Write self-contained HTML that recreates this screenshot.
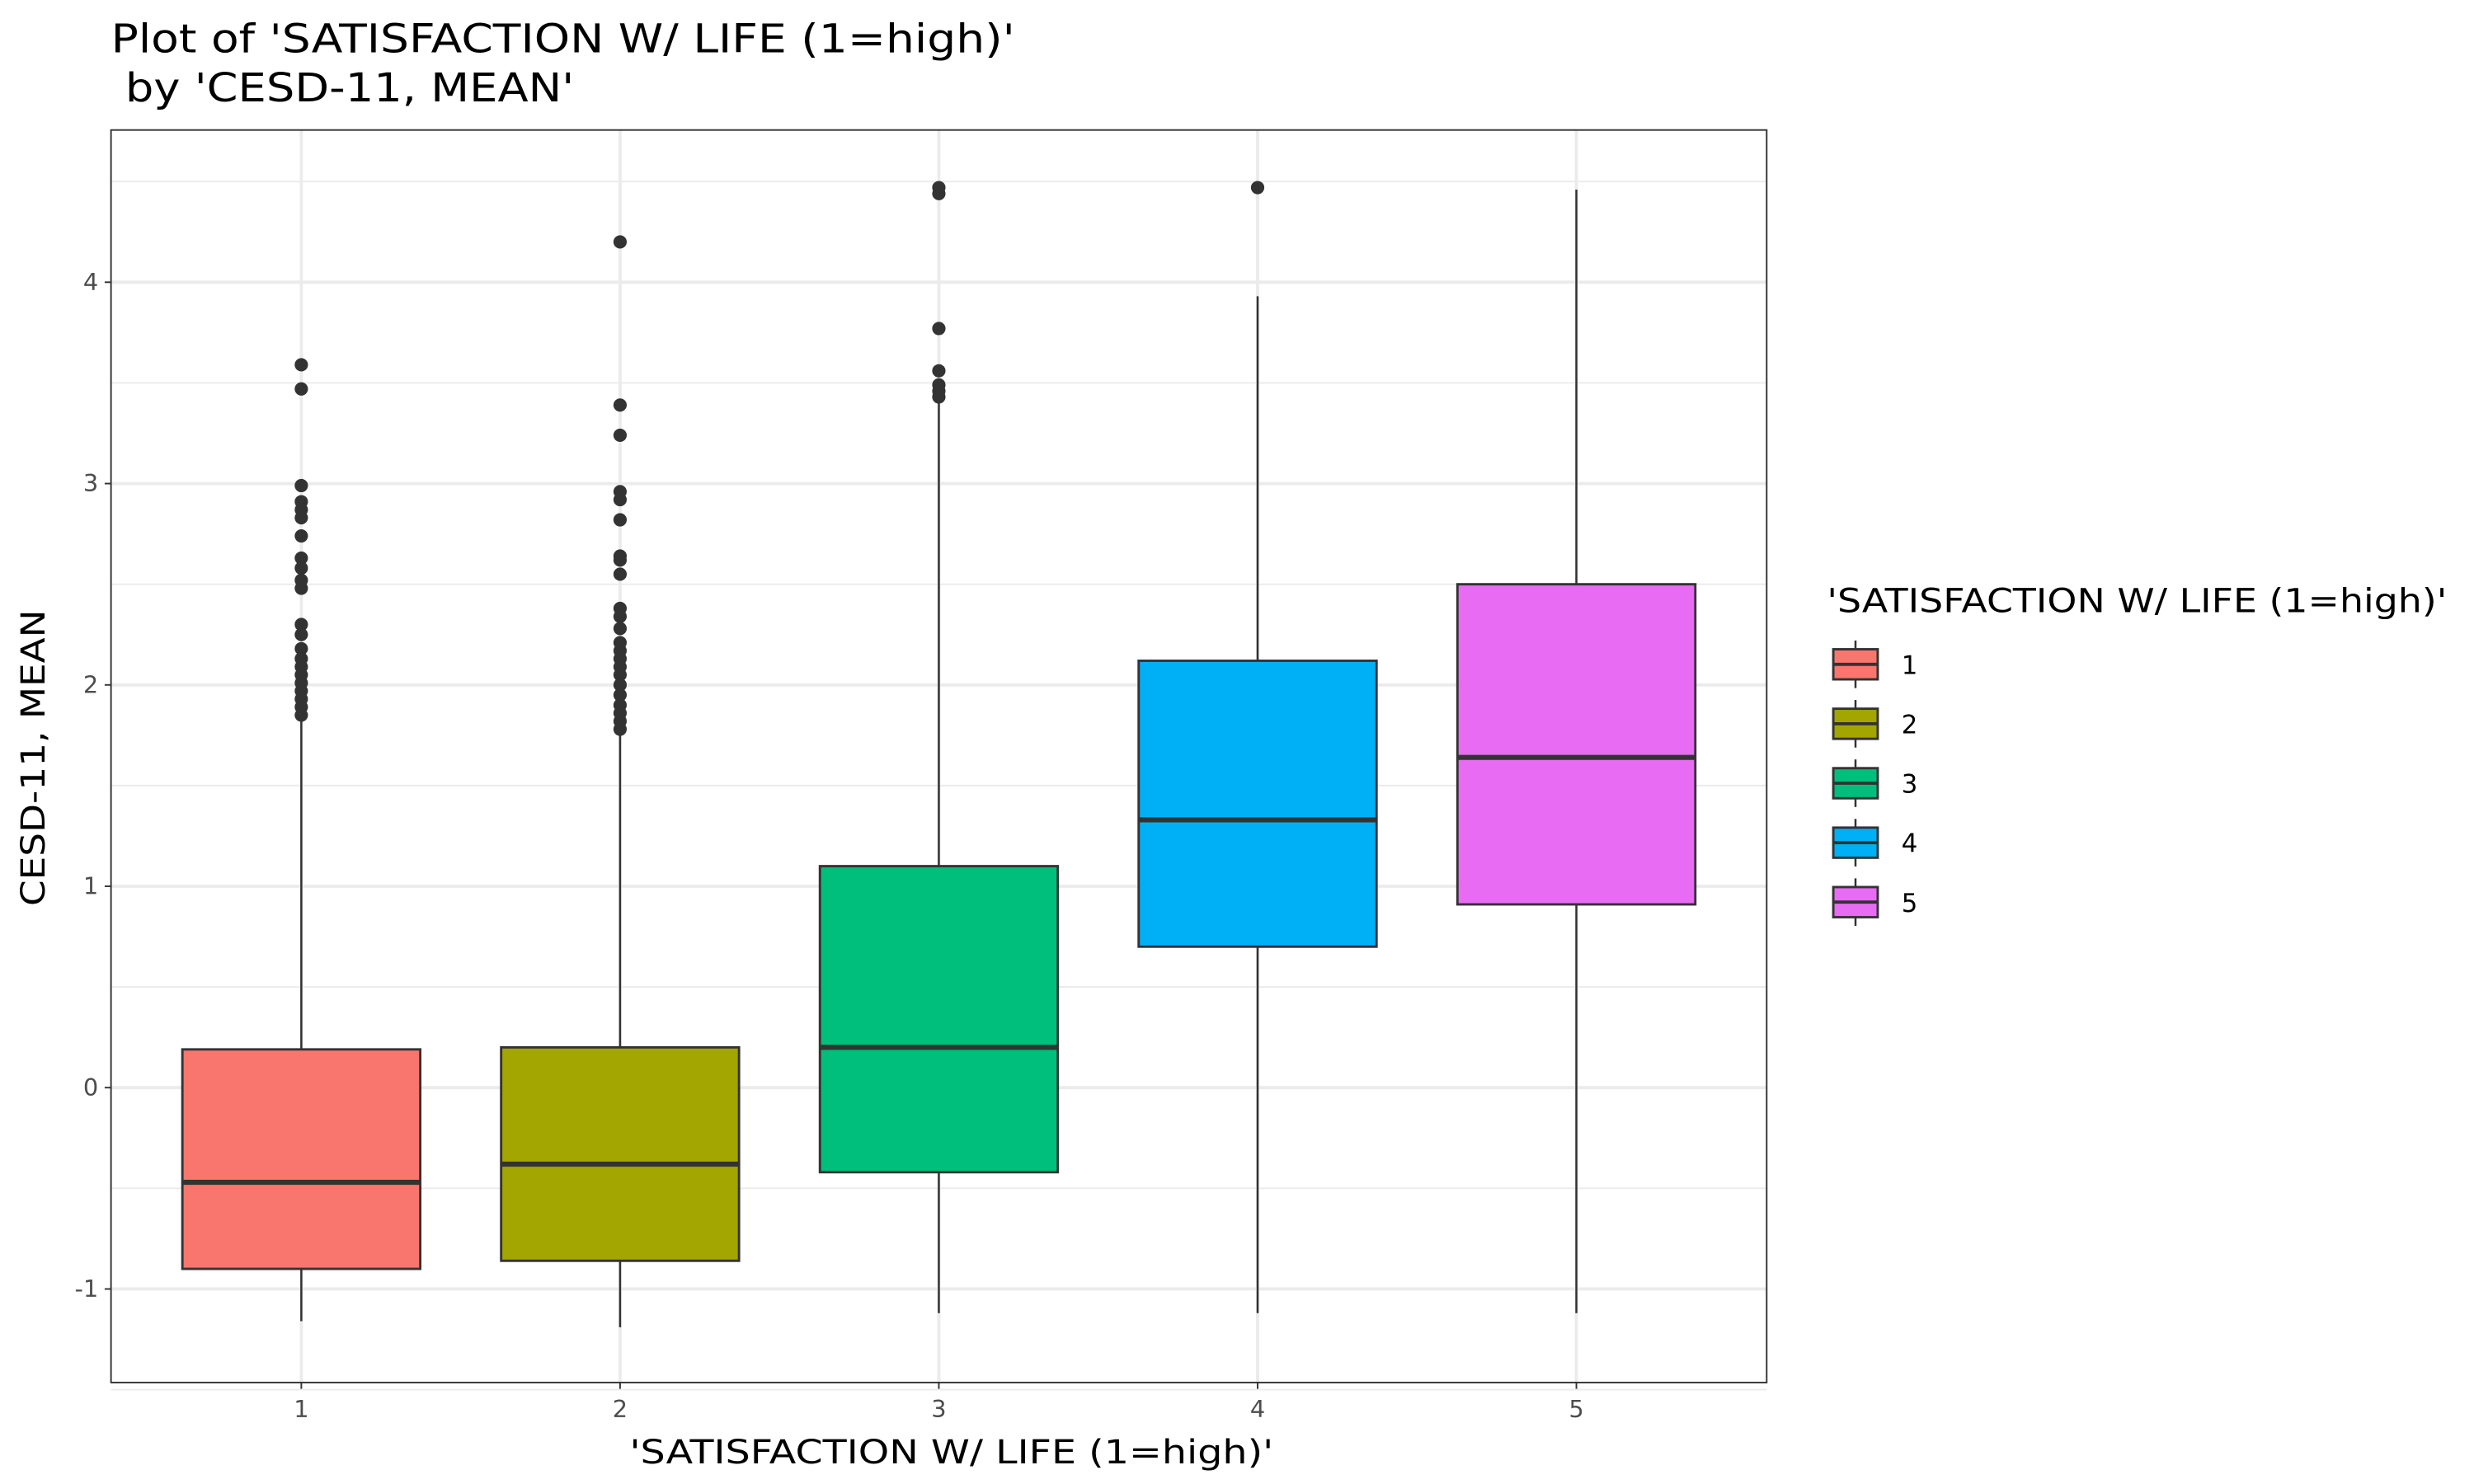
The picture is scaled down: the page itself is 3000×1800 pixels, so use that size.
<!DOCTYPE html>
<html><head><meta charset="utf-8"><style>
html,body{margin:0;padding:0;background:#fff;}
svg{display:block;font-family:"DejaVu Sans","Liberation Sans",sans-serif;}
</style></head><body>
<svg id="chart" width="3000" height="1800" viewBox="0 0 1560 936" preserveAspectRatio="none" xmlns="http://www.w3.org/2000/svg">
<text x="70" y="33" font-size="25" fill="#000" textLength="570" lengthAdjust="spacingAndGlyphs">Plot of 'SATISFACTION W/ LIFE (1=high)'</text>
<text x="70" y="64" font-size="25" fill="#000" xml:space="preserve" textLength="292" lengthAdjust="spacingAndGlyphs"> by 'CESD-11, MEAN'</text>
<rect x="70" y="82" width="1044" height="790" fill="#fff"/>
<g id="grid"></g>
<g id="marks"></g>
<rect x="70" y="82" width="1044" height="790" fill="none" stroke="#333" stroke-width="1"/>
<g id="axes"></g>
<text x="600" y="923" font-size="21" text-anchor="middle" fill="#000" textLength="406" lengthAdjust="spacingAndGlyphs">'SATISFACTION W/ LIFE (1=high)'</text>
<text transform="translate(28,478) rotate(-90)" font-size="21" text-anchor="middle" fill="#000" textLength="187" lengthAdjust="spacingAndGlyphs">CESD-11, MEAN</text>
<g id="legend"></g>
</svg>
<script>
const categories = ["1","2","3","4","5"];
const colors = ["#F8766D","#A3A500","#00BF7D","#00B0F6","#E76BF3"];
const lowerWhisker = [-1.16,-1.19,-1.12,-1.12,-1.12];
const q1 = [-0.90,-0.86,-0.42,0.70,0.91];
const median = [-0.47,-0.38,0.20,1.33,1.64];
const q3 = [0.19,0.20,1.10,2.12,2.50];
const upperWhisker = [1.82,1.76,3.40,3.93,4.46];
const outliers1 = [3.59,3.47,2.99,2.91,2.87,2.83,2.74,2.63,2.58,2.52,2.48,2.30,2.25,2.18,2.13,2.09,2.05,2.01,1.97,1.93,1.89,1.85];
const outliers2 = [4.20,3.39,3.24,2.96,2.92,2.82,2.64,2.62,2.55,2.38,2.34,2.28,2.21,2.17,2.13,2.09,2.05,2.00,1.95,1.90,1.86,1.82,1.78];
const outliers3 = [4.47,4.44,3.77,3.56,3.49,3.46,3.43];
const outliers4 = [4.47];
const outliers5 = [];
const yTicks = [-1,0,1,2,3,4];
const yTickLabels = ["-1","0","1","2","3","4"];

const NS="http://www.w3.org/2000/svg";
function y(v){return 686-127*v;}
function x(i){return 190+i*201;}
function mk(tag,attrs,parent){const e=document.createElementNS(NS,tag);for(const k in attrs)e.setAttribute(k,attrs[k]);parent.appendChild(e);return e;}
const grid=document.getElementById('grid'),marks=document.getElementById('marks'),axes=document.getElementById('axes'),legend=document.getElementById('legend');
for(let t=-1.5;t<=4.5;t+=0.5){
  const major=Number.isInteger(t);
  const g=mk('line',{x1:70,x2:1114,y1:y(t),y2:y(t),stroke:'#ebebeb','stroke-width':major?2:1},grid);
  
  
}
categories.forEach((c,i)=>{
  const g=mk('line',{x1:x(i),x2:x(i),y1:82,y2:872,stroke:'#ebebeb','stroke-width':2},grid);
  
  
});
yTicks.forEach((t,i)=>{
  const tk=mk('line',{x1:66,x2:70,y1:y(t),y2:y(t),stroke:'#333','stroke-width':1},axes);
  
  
  const tx=mk('text',{x:62,y:y(t)+5,'font-size':15,'text-anchor':'end',fill:'#4d4d4d'},axes);
  tx.textContent=yTickLabels[i];
  
  
});
categories.forEach((c,i)=>{
  const tk=mk('line',{x1:x(i),x2:x(i),y1:872,y2:876,stroke:'#333','stroke-width':1},axes);
  
  
  const tx=mk('text',{x:x(i),y:894,'font-size':15,'text-anchor':'middle',fill:'#4d4d4d'},axes);
  tx.textContent=c;
  
  
});
const outs=[outliers1,outliers2,outliers3,outliers4,outliers5];
categories.forEach((c,i)=>{
  const g=mk('g',{},marks);
  
  
  const cx=x(i),hw=75;
  mk('line',{x1:cx,x2:cx,y1:y(q3[i]),y2:y(upperWhisker[i]),stroke:'#333','stroke-width':1.3},g);
  mk('line',{x1:cx,x2:cx,y1:y(q1[i]),y2:y(lowerWhisker[i]),stroke:'#333','stroke-width':1.3},g);
  mk('rect',{x:cx-hw,y:y(q3[i]),width:2*hw,height:y(q1[i])-y(q3[i]),fill:colors[i],stroke:'#333','stroke-width':1.5},g);
  mk('line',{x1:cx-hw,x2:cx+hw,y1:y(median[i]),y2:y(median[i]),stroke:'#333','stroke-width':3.2},g);
  outs[i].forEach(v=>{
    const p=mk('circle',{cx:cx,cy:y(v),r:4.2,fill:'#333'},g);
    
    
  });
});
const lt=mk('text',{x:1152,y:386,'font-size':21,fill:'#000',textLength:391,lengthAdjust:'spacingAndGlyphs'},legend);
lt.textContent="'SATISFACTION W/ LIFE (1=high)'";


categories.forEach((c,i)=>{
  const cy=419+i*37.5;
  const g=mk('g',{},legend);
  
  
  mk('line',{x1:1170,x2:1170,y1:cy-15,y2:cy+15,stroke:'#333','stroke-width':1.3},g);
  mk('rect',{x:1156,y:cy-9.5,width:28,height:19,fill:colors[i],stroke:'#333','stroke-width':1.5},g);
  mk('line',{x1:1156,x2:1184,y1:cy,y2:cy,stroke:'#333','stroke-width':2},g);
  const t=mk('text',{x:1199,y:cy+6,'font-size':16,fill:'#000'},g);
  t.textContent=c;
});
</script>
</body></html>
